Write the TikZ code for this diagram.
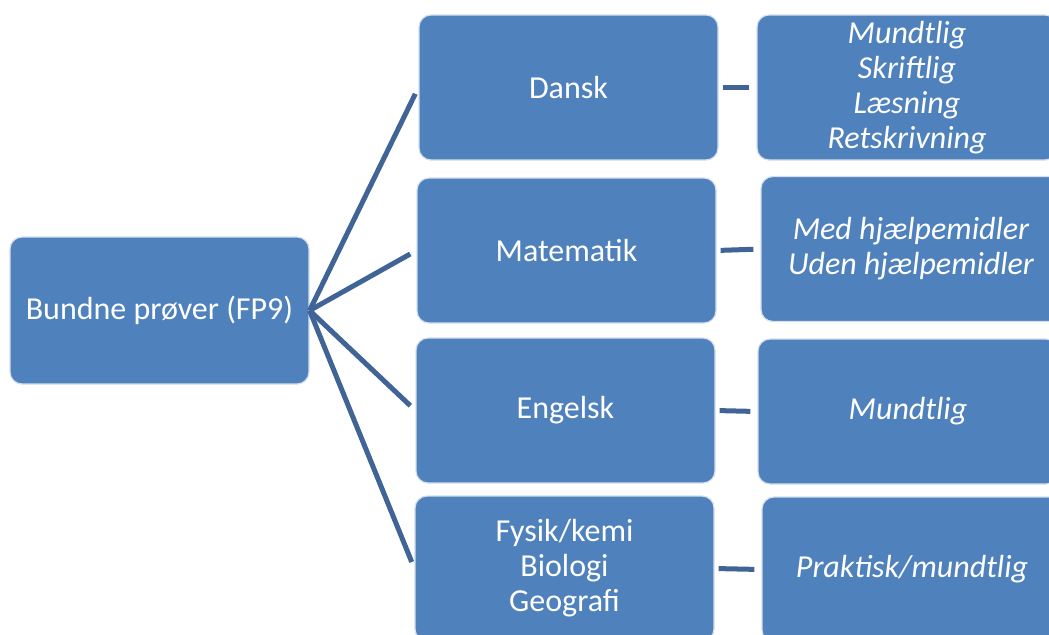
\documentclass[tikz,border=0pt]{standalone}
\usepackage{fontspec}
\setmainfont{Carlito}

\definecolor{boxblue}{RGB}{79,129,189}
\definecolor{linkblue}{RGB}{64,100,150}

\begin{document}
\begin{tikzpicture}[x=0.5pt,y=-0.5pt,
	box/.style={draw=white!75!boxblue, line width=0.6pt, fill=boxblue,
		rounded corners=6pt, text=white, align=center, inner sep=0pt,
		font=\fontsize{16}{17.5}\selectfont,
		minimum width=149.5pt, minimum height=72.5pt},
	subbox/.style={box, font=\fontsize{16}{17.5}\selectfont\itshape,
		minimum width=150pt},
	link/.style={draw=linkblue, line width=2.5pt, shorten >=3.5pt}]

\useasboundingbox (0,0) rectangle (1049,634);

% ROOT
\node[box, minimum height=73.5pt] (fp9) at (159.5,310.5) {Bundne prøver (FP9)};

% FAG
\node[box] (dansk) at (568.5,87.5) {Dansk};
\node[box] (mat) at (566.5,250.5) {Matematik};
\node[box] (eng) at (565.5,410.5) {Engelsk};
\node[box] (fys) at (564.5,568.5) {Fysik/kemi\\Biologi\\Geografi};

% PROEVEFORMER
\node[subbox] (danskform) at (907,87.5) {Mundtlig\\Skriftlig\\Læsning\\Retskrivning};
\node[subbox] (matform) at (911,249) {Med hjælpemidler\\Uden hjælpemidler};
\node[subbox] (engform) at (908,411.5) {Mundtlig};
\node[subbox] (fysform) at (912,569.5) {Praktisk/mundtlig};

% LINKS
\draw[link] (fp9.east) -- (dansk.west);
\draw[link] (fp9.east) -- (mat.west);
\draw[link] (fp9.east) -- (eng.west);
\draw[link] (fp9.east) -- (fys.west);

\draw[link, shorten <=2pt] (dansk.east) -- (danskform.west);
\draw[link, shorten <=2pt] (mat.east) -- (matform.west);
\draw[link, shorten <=2pt] (eng.east) -- (engform.west);
\draw[link, shorten <=2pt] (fys.east) -- (fysform.west);
\end{tikzpicture}
\end{document}
